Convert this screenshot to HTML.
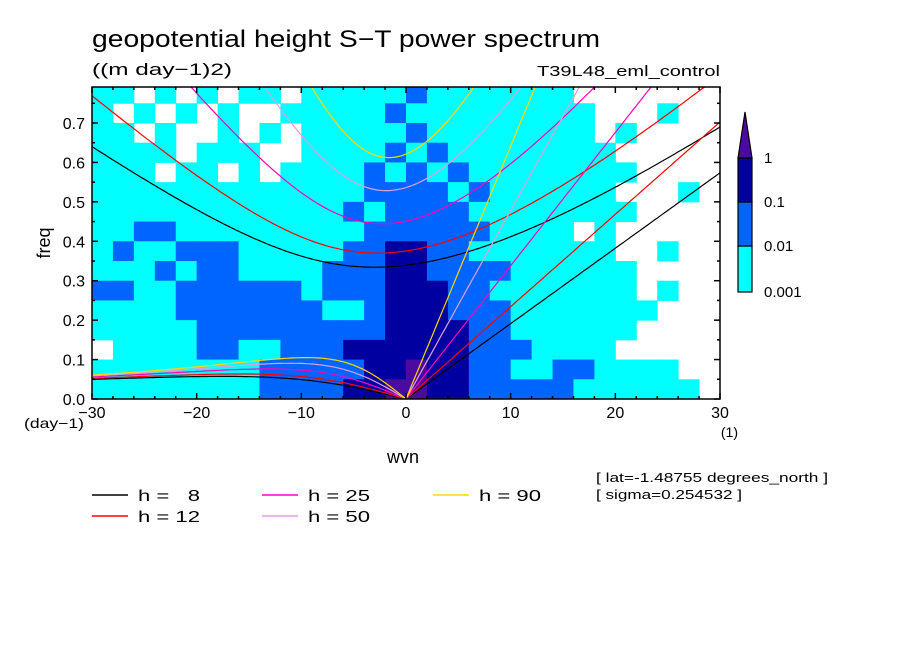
<!DOCTYPE html>
<html><head><meta charset="utf-8"><style>
html,body{margin:0;padding:0;background:#fff}
svg{display:block;font-family:"Liberation Sans",sans-serif}
</style></head><body>
<svg id="chart" width="904" height="654" viewBox="0 0 904 654">
<text x="92" y="47" font-size="24" textLength="508" lengthAdjust="spacingAndGlyphs">geopotential height S−T power spectrum</text>
<text x="92" y="75" font-size="17" textLength="140" lengthAdjust="spacingAndGlyphs">((m day−1)2)</text>
<text x="537" y="76" font-size="15" textLength="183" lengthAdjust="spacingAndGlyphs">T39L48_eml_control</text>
<defs><clipPath id="pc"><rect x="92" y="87" width="628" height="312"/></clipPath></defs>
<g id="cells" clip-path="url(#pc)"></g>
<g id="curves" clip-path="url(#pc)"></g>
<rect x="92" y="87" width="628" height="312" fill="none" stroke="#000" stroke-width="1.5"/>
<g id="axes"></g>
<text transform="translate(50,243) rotate(-90)" font-size="18" text-anchor="middle">freq</text>
<text x="24" y="428" font-size="14" textLength="60" lengthAdjust="spacingAndGlyphs">(day−1)</text>
<text x="403" y="463" font-size="18" text-anchor="middle">wvn</text>
<text x="738" y="437" font-size="14" text-anchor="end">(1)</text>
<g id="legend"></g>
<text x="596" y="482" font-size="13" textLength="232" lengthAdjust="spacingAndGlyphs">[ lat=-1.48755 degrees_north ]</text>
<text x="596" y="499" font-size="13" textLength="146" lengthAdjust="spacingAndGlyphs">[ sigma=0.254532 ]</text>
<g id="cbar"></g>
</svg>
<script>
const levelColors = ["#ffffff","#00ffff","#0064ff","#0000a0","#4b0aa0"];
const levelLabels = ["0.001","0.01","0.1","1"];
const equivDepths = [8,12,25,50,90];
const depthColors = ["#000000","#ff0000","#ff00c0","#dda0dd","#ffd700"];
const xTicks = [-30,-20,-10,0,10,20,30];
const yTicks = [0,0.1,0.2,0.3,0.4,0.5,0.6,0.7];
// grid rows from top (freq 0.75-0.80) to bottom (0-0.05); 30 columns of 2 wvn from -30 to 30
const gridRows = [
"110101011011111"+"211111110000000",
"101010100111112"+"111111111000100",
"110100101011111"+"211111111010000",
"111101110011112"+"121111111100000",
"111011010111121"+"212111111110000",
"111111111111122"+"221211111100010",
"111111111111212"+"222111111110000",
"112211111111122"+"222211110100000",
"121122211111223"+"322111111100100",
"111212211112223"+"322221111110000",
"221122222212223"+"332211111110100",
"111122222221123"+"332221111111000",
"111112222222223"+"333221111110000",
"011112211222333"+"333222111100000",
"111111112222233"+"433221122111100",
"111111112222334"+"433222221111110"];

const X0=92,X1=720,Y0=399,Y1=87,FMAX=0.7913;
const xs=k=>X0+(k+30)/60*(X1-X0);
const ys=f=>Y0-f/FMAX*(Y0-Y1);
const NS="http://www.w3.org/2000/svg";
function mk(tag,attrs,parent){const e=document.createElementNS(NS,tag);for(const k in attrs)e.setAttribute(k,attrs[k]);parent.appendChild(e);return e;}

const cells=document.getElementById('cells');
const nR=gridRows.length;
gridRows.forEach((row,ri)=>{
  const f1=(nR-ri)*0.05,f0=f1-0.05;
  for(let ci=0;ci<row.length;ci++){
    const lv=+row[ci]; if(lv===0)continue;
    const k0=-30+ci*2;
    const r=mk('rect',{x:xs(k0),y:ys(f1),width:xs(k0+2)-xs(k0)+0.5,height:ys(f0)-ys(f1)+0.5,fill:levelColors[lv]},cells);
    
    
  }
});

const beta=2.289e-11,a=6.371e6,cpd=86400/(2*Math.PI);
function roots(k,c){
  const p=-(c*c*k*k+3*beta*c),q=-beta*k*c*c;
  const m=2*Math.sqrt(-p/3);
  const th=Math.acos(Math.max(-1,Math.min(1,(3*q/(2*p))*Math.sqrt(-3/p))))/3;
  return [0,1,2].map(j=>m*Math.cos(th-2*Math.PI*j/3));
}
const curves=document.getElementById('curves');
equivDepths.forEach((h,i)=>{
  const c=Math.sqrt(9.81*h);
  let ig=[],ro=[],kv=[];
  for(let s=-30;s<=30.001;s+=0.25){
    const k=s/a;const r=roots(k,c);
    const mx=Math.max(...r);
    ig.push(xs(s).toFixed(1)+','+ys(mx*cpd).toFixed(1));
    if(s<=0){let sm=r.reduce((b,v)=>Math.abs(v)<Math.abs(b)?v:b);ro.push(xs(s).toFixed(1)+','+ys(Math.abs(sm)*cpd).toFixed(1));}
    if(s>=0)kv.push(xs(s).toFixed(1)+','+ys(c*k*cpd).toFixed(1));
  }
  [['ig',ig],['rossby',ro],['kelvin',kv]].forEach(([n,pts])=>{
    const pl=mk('polyline',{points:pts.join(' '),fill:'none',stroke:depthColors[i],'stroke-width':1.2},curves);
    
    
  });
});

const ax=document.getElementById('axes');
for(let s=-30;s<=30;s+=2){
  const big=s%10===0,L=big?6:3;
  mk('line',{x1:xs(s),x2:xs(s),y1:Y0,y2:Y0-L,stroke:'#000','stroke-width':1.5},ax);
  mk('line',{x1:xs(s),x2:xs(s),y1:Y1,y2:Y1+L,stroke:'#000','stroke-width':1.5},ax);
}
for(let j=0;j<=15;j++){
  const f=j*0.05,L=j%2===0?6:3;
  mk('line',{x1:X0,x2:X0+L,y1:ys(f),y2:ys(f),stroke:'#000','stroke-width':1.5},ax);
  mk('line',{x1:X1,x2:X1-L,y1:ys(f),y2:ys(f),stroke:'#000','stroke-width':1.5},ax);
}
xTicks.forEach(v=>{
  const t=mk('text',{x:xs(v),y:418,'font-size':16,'text-anchor':'middle'},ax);
  t.textContent=v<0?'−'+(-v):String(v);
  
  
});
yTicks.forEach(v=>{
  const t=mk('text',{x:85,y:ys(v)+6,'font-size':16,'text-anchor':'end'},ax);
  t.textContent=v.toFixed(1);
  
  
});

const lg=document.getElementById('legend');
const legPos=[[92,495],[92,516],[262,495],[262,516],[433,495]];
equivDepths.forEach((h,i)=>{
  const [x,y]=legPos[i];
  const l=mk('line',{x1:x,x2:x+36,y1:y,y2:y,stroke:depthColors[i],'stroke-width':1.5},lg);
  
  
  const t=mk('text',{x:x+46,y:y+6,'font-size':16,textLength:62,lengthAdjust:'spacingAndGlyphs'},lg);
  t.textContent='h = '+(h<10?'  '+h:h);
  t.style.whiteSpace='pre';
  
  
});

const cb=document.getElementById('cbar');
const segs=[[246,292,1],[202,246,2],[158,202,3]];
segs.forEach(([y0,y1,lv])=>{
  const r=mk('rect',{x:738,y:y0,width:14,height:y1-y0,fill:levelColors[lv],stroke:'#000','stroke-width':1.2},cb);
  
  
});
const tri=mk('polygon',{points:'738,158 752,158 745,112',fill:levelColors[4],stroke:'#000','stroke-width':1.2},cb);


const cbY=[297,251,207,163];
levelLabels.forEach((s,i)=>{
  const t=mk('text',{x:764,y:cbY[i],'font-size':15},cb);
  t.textContent=s;
  
  
});
</script>
</body></html>
